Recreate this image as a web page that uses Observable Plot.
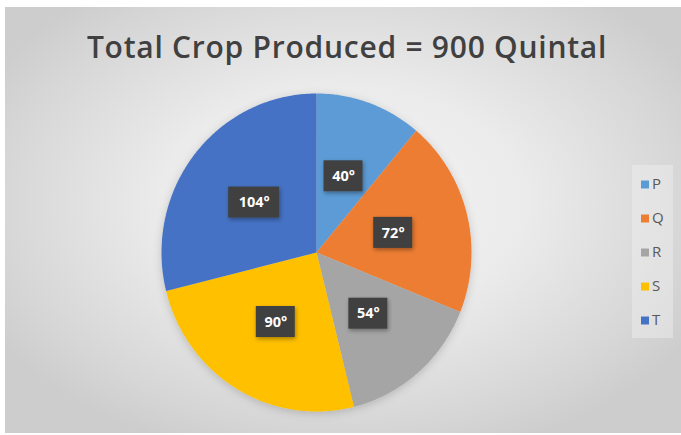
<!DOCTYPE html>
<html>
<head>
<meta charset="utf-8">
<script src="https://cdn.jsdelivr.net/npm/d3@7"></script>
<script src="https://cdn.jsdelivr.net/npm/@observablehq/plot@0.6"></script>
<style>
  html, body { margin: 0; padding: 0; background: #ffffff; }
  #wrap { position: relative; width: 681px; height: 435px; overflow: hidden; background: #ffffff; }
  #panel { position: absolute; left: 5px; top: 7px; width: 676px; height: 426px;
    background: radial-gradient(ellipse 60% 62% at 50% 46%, #f5f5f5 0%, #ebebeb 45%, #d6d6d6 85%, #cdcdcd 100%); }
  #title { position: absolute; left: 0; top: 32px; width: 694px; text-align: center;
    font-family: "Open Sans", sans-serif; font-weight: 600; font-size: 30px; line-height: 30px;
    letter-spacing: 0.75px; color: #404040; white-space: nowrap; }
  #chart { position: absolute; left: 0; top: 80px; }
  #legendBox { position: absolute; left: 632px; top: 165px; width: 41px; height: 173px;
    background: rgba(240,240,240,0.45); }
</style>
</head>
<body>
<div id="wrap">
  <div id="panel"></div>
  <div id="title"></div>
  <div id="chart"></div>
  <div id="legendBox"></div>
</div>
<script>
const titleText = "Total Crop Produced = 900 Quintal";
const categories = ["P", "Q", "R", "S", "T"];
const degrees = [40, 72, 54, 90, 104];
const colors = ["#5B9BD5", "#ED7D31", "#A5A5A5", "#FFC000", "#4472C4"];
const unit = "\u00B0";

document.getElementById("title").textContent = titleText;

// geometry (layout only)
const W = 620, H = 350, cx = 316, cy = 172, rx = 155, ry = 159;
const labelFrac = 0.51;

// build slice polygons from data
const slicePoints = [];
const labels = [];
let start = 0;
categories.forEach((key, i) => {
  const end = start + degrees[i];
  slicePoints.push({key, x: 0, y: 0});
  for (let a = start; a <= end; a += 0.5) {
    const r = a * Math.PI / 180;
    slicePoints.push({key, x: Math.sin(r), y: Math.cos(r)});
  }
  const re = end * Math.PI / 180;
  slicePoints.push({key, x: Math.sin(re), y: Math.cos(re)});
  const mid = (start + end) / 2 * Math.PI / 180;
  const text = degrees[i] + unit;
  const lx = labelFrac * Math.sin(mid), ly = labelFrac * Math.cos(mid);
  const hw = (12 * text.length + 3) / 2 / rx, hh = 15.5 / ry;
  labels.push({key, text, x: lx, y: ly, x1: lx - hw, x2: lx + hw, y1: ly - hh, y2: ly + hh});
  start = end;
});

const plot = Plot.plot({
  width: W,
  height: H,
  margin: 0,
  style: {background: "transparent", overflow: "visible"},
  x: {domain: [-cx / rx, (W - cx) / rx], axis: null},
  y: {domain: [-(H - cy) / ry, cy / ry], axis: null},
  color: {domain: categories, range: colors},
  marks: [
    Plot.line(slicePoints, {x: "x", y: "y", z: "key", fill: "key", stroke: null, curve: "linear-closed"}),
    Plot.rect(labels, {x1: "x1", x2: "x2", y1: "y1", y2: "y2", fill: "#404040"}),
    Plot.text(labels, {x: "x", y: "y", text: "text", fill: "white", fontSize: 14.5, fontWeight: "bold",
      fontFamily: "Open Sans, sans-serif"})
  ]
});

// soft shadows
const ns = "http://www.w3.org/2000/svg";
const defs = document.createElementNS(ns, "defs");
defs.innerHTML = `
  <filter id="pieShadow" x="-20%" y="-20%" width="140%" height="140%">
    <feDropShadow dx="0" dy="2" stdDeviation="4" flood-color="#000" flood-opacity="0.18"/>
  </filter>
  <filter id="boxShadow" x="-30%" y="-30%" width="160%" height="160%">
    <feDropShadow dx="1" dy="2" stdDeviation="2" flood-color="#000" flood-opacity="0.35"/>
  </filter>`;
plot.insertBefore(defs, plot.firstChild);
const lineG = plot.querySelector('g[aria-label="line"]');
if (lineG) lineG.setAttribute("filter", "url(#pieShadow)");
const rectG = plot.querySelector('g[aria-label="rect"]');
if (rectG) rectG.setAttribute("filter", "url(#boxShadow)");
document.getElementById("chart").appendChild(plot);

// legend drawn with Plot using the same colour scale
const legendPlot = Plot.plot({
  width: 41,
  height: 173,
  margin: 0,
  style: {background: "transparent", overflow: "visible"},
  x: {axis: null},
  y: {type: "point", domain: categories, range: [18, 156], padding: 0, axis: null},
  color: {domain: categories, range: colors},
  marks: [
    Plot.dot(categories, {y: d => d, fill: d => d, symbol: "square", r: 4.5, frameAnchor: "left", dx: 12.5}),
    Plot.text(categories, {y: d => d, text: d => d, frameAnchor: "left", dx: 19.5, textAnchor: "start",
      fill: "#595959", fontSize: 15, fontFamily: "Open Sans, sans-serif"})
  ]
});
document.getElementById("legendBox").appendChild(legendPlot);
</script>
</body>
</html>
